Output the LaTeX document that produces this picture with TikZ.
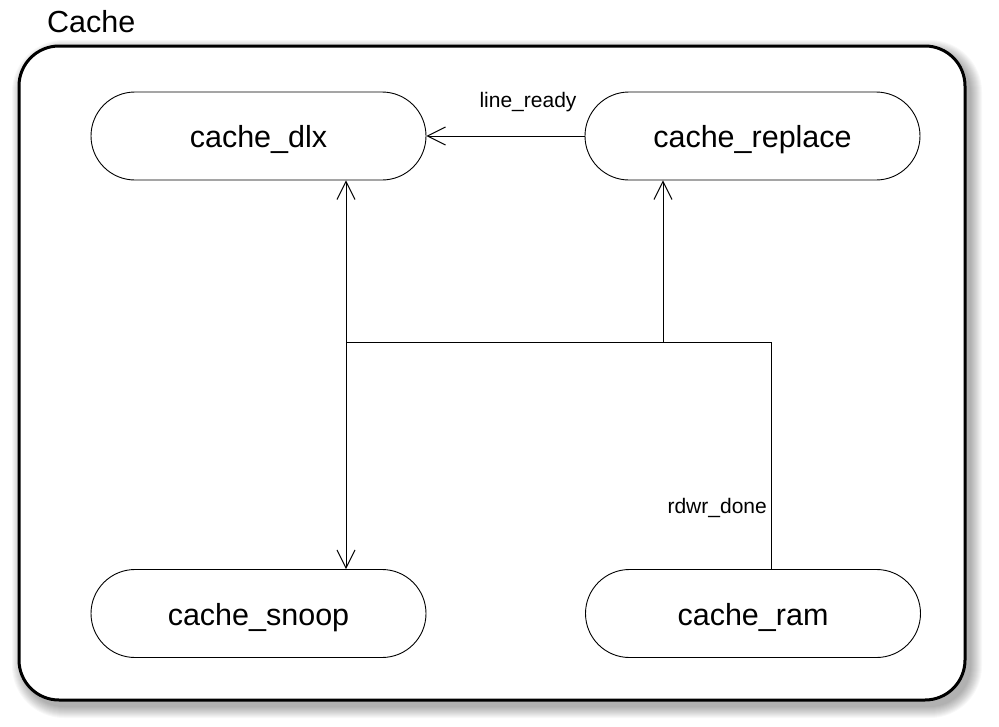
\documentclass[tikz,border=0pt]{standalone}
\usepackage{fontspec}
\setmainfont{Liberation Sans}
\usetikzlibrary{arrows.meta,calc}
\begin{document}
\begin{tikzpicture}[x=1pt,y=-1pt,
  state/.style={draw, line width=0.9pt, rounded corners=44pt, minimum width=335pt, minimum height=88pt, inner sep=0pt, text height=23.5pt, text depth=0.5pt, font=\fontsize{30.5}{36}\selectfont, fill=white},
  conn/.style={line width=1pt},
  tip/.style={-{Straight Barb[length=18pt,width=18pt,line width=1pt]}},
  lbl/.style={font=\fontsize{21}{25}\selectfont, inner sep=0pt}]
\useasboundingbox (0,0) rectangle (999,726);
\fill[white] (0,0) rectangle (999,726);
% blurred shadow
\foreach \i in {1,...,12}{
  \fill[black, opacity=0.028, rounded corners={40+\i}] (19+5-\i,46+6-\i) rectangle (965+5+\i,700+6+\i);
}
\draw[line width=3pt, fill=white, rounded corners=40pt] (19,46) rectangle (965,700);
\node[anchor=base west, inner sep=0pt, font=\fontsize{30.5}{36}\selectfont] (title) at (47,32) {Cache};
\node[state] (dlx) at (258.5,136) {cache\_dlx};
\node[state] (replace) at (752.5,136) {cache\_replace};
\node[state] (snoop) at (258.5,613.5) {cache\_snoop};
\node[state] (ram) at (753,613.5) {cache\_ram};
\coordinate (j) at (346,342);
\coordinate (k) at (663,342);
\draw[conn,tip] (replace.west) -- (dlx.east);
\node[lbl, anchor=base] (lr) at (528,107) {line\_ready};
\draw[conn] ([xshift=18pt]ram.north) |- (j);
\draw[conn,tip] (j) -- (j |- dlx.south);
\draw[conn,tip] (j) -- (j |- snoop.north);
\draw[conn,tip] (k) -- (k |- replace.south);
\node[lbl, anchor=base east] (rd) at (767,513) {rdwr\_done};
\end{tikzpicture}
\end{document}
